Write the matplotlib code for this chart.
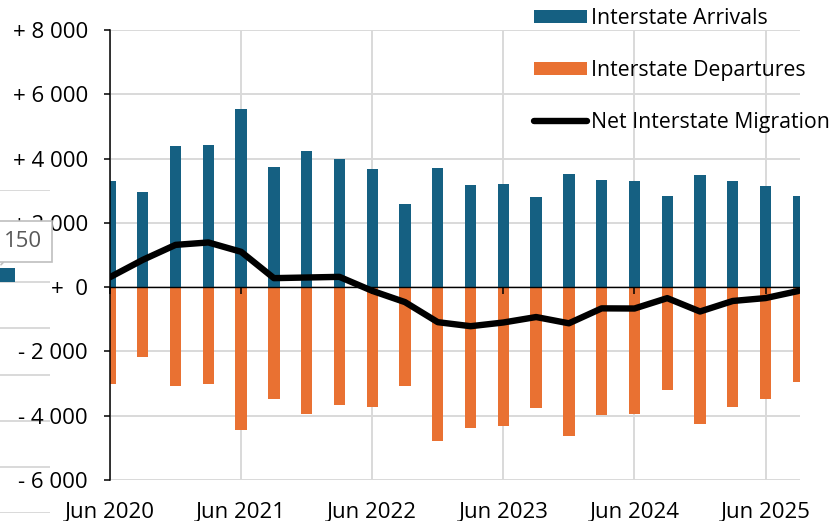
import matplotlib
matplotlib.use("Agg")
import matplotlib.pyplot as plt
from matplotlib.ticker import FuncFormatter, MultipleLocator
from matplotlib.text import Annotation
import numpy as np

# ---------------- data ----------------
quarters = ["Jun 2020", "Sep 2020", "Dec 2020", "Mar 2021",
            "Jun 2021", "Sep 2021", "Dec 2021", "Mar 2022",
            "Jun 2022", "Sep 2022", "Dec 2022", "Mar 2023",
            "Jun 2023", "Sep 2023", "Dec 2023", "Mar 2024",
            "Jun 2024", "Sep 2024", "Dec 2024", "Mar 2025",
            "Jun 2025", "Sep 2025"]
arrivals = [3305, 2973, 4393, 4415, 5534, 3740, 4238, 3979, 3668, 2590, 3719,
            3181, 3212, 2807, 3513, 3327, 3295, 2848, 3491, 3295, 3140, 2838]
departures = [-3006, -2177, -3090, -3027, -4437, -3473, -3950, -3659, -3742, -3069, -4800,
              -4384, -4322, -3762, -4645, -3992, -3961, -3193, -4250, -3731, -3473, -2966]
net = [310, 849, 1315, 1390, 1100, 280, 300, 320, -115, -466, -1090,
       -1215, -1100, -930, -1125, -660, -665, -342, -758, -430, -340, -120]
label_names = ["Interstate Arrivals", "Interstate Departures", "Net Interstate Migration"]
stray_value = 150

BLUE = "#156082"
ORANGE = "#E97132"
GRID = "#d9d9d9"

FONT = "Open Sans"
plt.rcParams["font.family"] = [FONT, "DejaVu Sans"]
FS = 16
LFS = 15.3

W, H = 836, 521
fig = plt.figure(figsize=(W / 100, H / 100), dpi=100)

# ---------------- main axes ----------------
ax = fig.add_axes([110 / W, 1 - 480 / H, (800 - 110) / W, (480 - 30) / H])
ax.set_zorder(1)
x = np.arange(len(quarters))
bw = 0.345
b1 = ax.bar(x, arrivals, width=bw, color=BLUE, zorder=2, label=label_names[0])
b2 = ax.bar(x, departures, width=bw, color=ORANGE, zorder=2, label=label_names[1])
ax.axhline(0, color="black", lw=1.0, zorder=2.5)
l1, = ax.plot(x, net, color="black", lw=4.6, zorder=3, solid_joinstyle="round",
              solid_capstyle="round", label=label_names[2])

ax.set_xlim(0, 21.05)
ax.set_ylim(-6000, 8000)
ax.yaxis.set_major_locator(MultipleLocator(2000))


def fmt(v, pos):
    v = int(round(v))
    if v == 0:
        return "+  0"
    s = f"{abs(v):,}".replace(",", " ")
    return ("+ " if v > 0 else "- ") + s


ax.yaxis.set_major_formatter(FuncFormatter(fmt))
xt = [i for i, q in enumerate(quarters) if q.startswith("Jun")]
ax.set_xticks(xt)
ax.set_xticklabels([quarters[i] for i in xt])
ax.grid(True, color=GRID, lw=1.4, zorder=0)
ax.set_axisbelow(True)
for s in ["top", "right", "bottom"]:
    ax.spines[s].set_visible(False)
ax.spines["left"].set_color("black")
ax.spines["left"].set_linewidth(1.1)
ax.tick_params(axis="y", length=4.5, width=1.1, color="black", pad=11.3, labelsize=FS)
ax.tick_params(axis="x", length=0, pad=15.5, labelsize=FS)

sec = ax.secondary_xaxis(0, transform=ax.transData)
sec.set_zorder(2.6)
sec.set_xticks(xt)
sec.set_xticklabels([])
sec.tick_params(axis="x", direction="out", length=5, width=1.1, color="black")
sec.spines["bottom"].set_visible(False)
sec.spines["top"].set_visible(False)

leg = fig.legend(handles=[b1, b2, l1], labels=label_names, loc="upper left",
                 bbox_to_anchor=(534 / W, 1 - 8 / H), frameon=False, fontsize=LFS,
                 handlelength=2.5, handleheight=0.6, handletextpad=0.2,
                 labelspacing=1.45, borderpad=0, borderaxespad=0)

# ---------------- stray chart fragment at left edge ----------------
ins = fig.add_axes([0, 1 - 513 / H, 50 / W, (513 - 190) / H])
ins.set_zorder(0)
ins.patch.set_visible(False)
ins.set_xlim(0, 50)
ins.set_ylim(-2500, 1000)
ins.yaxis.set_major_locator(MultipleLocator(500))
ins.grid(True, axis="y", color=GRID, lw=1.4)
ins.set_axisbelow(True)
ins.bar([0], [stray_value], width=30, color=BLUE)
for s in ins.spines.values():
    s.set_visible(False)
ins.tick_params(length=0, labelleft=False, labelbottom=False)

ann = Annotation(str(stray_value), xy=(1, stray_value + 40), xycoords=ins.transData,
                 xytext=(23, 444), textcoords=ins.transData, ha="center", va="center",
                 fontsize=FS, color="#595959",
                 bbox=dict(boxstyle="square,pad=0.45", fc="white", ec="#bfbfbf", lw=1.2),
                 arrowprops=dict(arrowstyle="-", color="#bfbfbf", lw=1.2,
                                 shrinkA=0, shrinkB=0))
ann.set_zorder(5)
fig.add_artist(ann)

fig.savefig("out.png", dpi=100)
